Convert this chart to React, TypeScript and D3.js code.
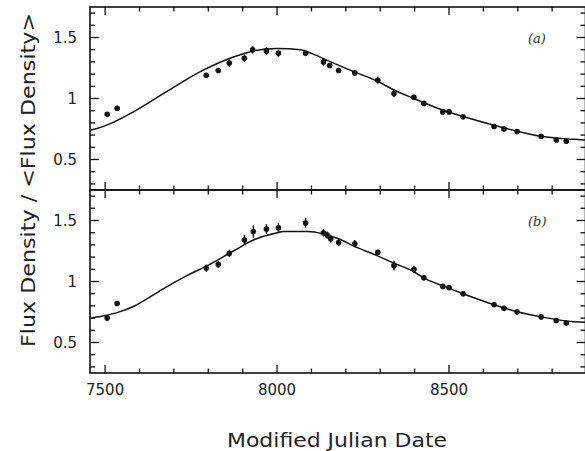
import React from "react";
import * as d3 from "d3";

// Normalised flux density light curves
// Each observation: [date, value, error]
const pointsA: [number, number, number][] = [
  [7506, 0.87, 0.02], [7535, 0.92, 0.02], [7794, 1.19, 0.02], [7829, 1.23, 0.02],
  [7861, 1.29, 0.03], [7905, 1.33, 0.03], [7929, 1.40, 0.03], [7969, 1.39, 0.03],
  [8004, 1.37, 0.03], [8083, 1.37, 0.02], [8135, 1.30, 0.03], [8153, 1.27, 0.02],
  [8179, 1.23, 0.02], [8226, 1.21, 0.02], [8293, 1.15, 0.03], [8340, 1.04, 0.03],
  [8398, 1.01, 0.02], [8427, 0.96, 0.02], [8482, 0.89, 0.02], [8500, 0.89, 0.02],
  [8541, 0.85, 0.02], [8631, 0.77, 0.02], [8660, 0.75, 0.02], [8698, 0.73, 0.02],
  [8768, 0.69, 0.02], [8812, 0.66, 0.02], [8841, 0.65, 0.02],
];
const pointsB: [number, number, number][] = [
  [7506, 0.70, 0.02], [7535, 0.82, 0.02], [7794, 1.11, 0.03], [7829, 1.14, 0.03],
  [7861, 1.23, 0.03], [7905, 1.34, 0.04], [7931, 1.41, 0.05], [7969, 1.43, 0.04],
  [8004, 1.44, 0.04], [8083, 1.48, 0.04], [8135, 1.40, 0.03], [8146, 1.38, 0.03],
  [8156, 1.35, 0.03], [8179, 1.32, 0.03], [8226, 1.31, 0.03], [8293, 1.24, 0.02],
  [8340, 1.13, 0.04], [8398, 1.10, 0.03], [8427, 1.03, 0.02], [8482, 0.96, 0.02],
  [8500, 0.95, 0.02], [8541, 0.90, 0.02], [8631, 0.81, 0.02], [8660, 0.78, 0.02],
  [8698, 0.75, 0.02], [8768, 0.71, 0.02], [8812, 0.68, 0.02], [8841, 0.66, 0.02],
];

// Model curves: [date, value]
const modelA: [number, number][] = [
  [7456, 0.74], [7471, 0.75], [7520, 0.80], [7582, 0.89], [7681, 1.06], [7777, 1.22],
  [7873, 1.34], [7931, 1.39], [8001, 1.41], [8068, 1.40], [8100, 1.37], [8156, 1.30],
  [8223, 1.22], [8293, 1.14], [8340, 1.07], [8398, 1.00], [8477, 0.91], [8544, 0.85],
  [8631, 0.78], [8701, 0.73], [8768, 0.69], [8864, 0.665], [8896, 0.66],
];
const modelB: [number, number][] = [
  [7456, 0.70], [7490, 0.715], [7535, 0.745], [7582, 0.795], [7620, 0.855], [7660, 0.925],
  [7739, 1.05], [7797, 1.13], [7873, 1.25], [7931, 1.34], [8001, 1.40], [8019, 1.41],
  [8089, 1.41], [8135, 1.39], [8179, 1.35], [8223, 1.29], [8293, 1.21], [8340, 1.15],
  [8398, 1.08], [8427, 1.03], [8486, 0.96], [8541, 0.90], [8631, 0.81], [8701, 0.75],
  [8768, 0.71], [8864, 0.67], [8896, 0.665],
];

const xMajor = [7500, 8000, 8500];
const yMajor = [0.5, 1, 1.5];
const yTickLabels = ["0.5", "1", "1.5"];
const panelLabels = ["(a)", "(b)"];
const xTitle = "Modified Julian Date";
const yTitle = "Flux Density / <Flux Density>";

const W = 585;
const H = 451;
const left = 90;
const right = 585.5;
const panels = [
  { top: 7, bottom: 190 },
  { top: 190, bottom: 373 },
];

const x = d3.scaleLinear().domain([7456, 8897]).range([left, right]);
const xMinor = d3.range(7500, 8900, 100);
const yMinor = d3.range(0.3, 1.75, 0.1).map((v) => Math.round(v * 10) / 10);

const font = "'DejaVu Sans', sans-serif";

function Panel({ idx, pts, model }: { idx: number; pts: [number, number, number][]; model: [number, number][] }) {
  const { top, bottom } = panels[idx];
  const y = d3.scaleLinear().domain([0.25, 1.75]).range([bottom, top]);
  const line = d3
    .line<[number, number]>()
    .x((d) => x(d[0]))
    .y((d) => y(d[1]))
    .curve(d3.curveMonotoneX);
  const isMajorX = (v: number) => xMajor.includes(v);
  const isMajorY = (v: number) => yMajor.some((m) => Math.abs(m - v) < 1e-6);
  return (
    <g>
      <defs>
        <clipPath id={`clip${idx}`}>
          <rect x={left} y={top} width={right - left} height={bottom - top} />
        </clipPath>
      </defs>
      <path d={line(model) || ""} fill="none" stroke="#111" strokeWidth={1.5} clipPath={`url(#clip${idx})`} />
      {pts.map((p, i) => (
        <g key={i}>
          <line x1={x(p[0])} x2={x(p[0])} y1={y(p[1] - p[2])} y2={y(p[1] + p[2])} stroke="#111" strokeWidth={1.4} />
          <circle cx={x(p[0])} cy={y(p[1])} r={2.8} fill="#111" />
        </g>
      ))}
      {/* frame */}
      <rect x={left} y={top} width={right - left} height={bottom - top} fill="none" stroke="#111" strokeWidth={1.6} />
      {/* x ticks, bottom and top, pointing inward */}
      {xMinor.map((v) => {
        const len = isMajorX(v) ? 8 : 4.5;
        return (
          <g key={v}>
            <line x1={x(v)} x2={x(v)} y1={bottom} y2={bottom - len} stroke="#111" strokeWidth={1.3} />
            <line x1={x(v)} x2={x(v)} y1={top} y2={top + len} stroke="#111" strokeWidth={1.3} />
          </g>
        );
      })}
      {/* y ticks, left and right */}
      {yMinor.map((v) => {
        const len = isMajorY(v) ? 9 : 5;
        return (
          <g key={v}>
            <line x1={left} x2={left + len} y1={y(v)} y2={y(v)} stroke="#111" strokeWidth={1.3} />
            <line x1={right} x2={right - len} y1={y(v)} y2={y(v)} stroke="#111" strokeWidth={1.3} />
          </g>
        );
      })}
      {yMajor.map((v, i) => (
        <text key={v} x={77} y={y(v) + 5.5} textAnchor="end" fontFamily={font} fontSize={15} fill="#222">
          {yTickLabels[i]}
        </text>
      ))}
      <text x={528} y={top + 36} fontFamily="'DejaVu Serif', serif" fontStyle="italic" fontSize={13} fill="#333">
        {panelLabels[idx]}
      </text>
    </g>
  );
}

export default function App() {
  return (
    <svg width={W} height={H} style={{ position: "absolute", left: 0, top: 0, background: "#fff" }}>
      <rect width={W} height={H} fill="#fff" />
      <Panel idx={0} pts={pointsA} model={modelA} />
      <Panel idx={1} pts={pointsB} model={modelB} />
      {xMajor.map((v) => (
        <text key={v} x={x(v)} y={395} textAnchor="middle" fontFamily={font} fontSize={15} fill="#222">
          {v}
        </text>
      ))}
      <text
        x={337}
        y={447}
        textAnchor="middle"
        fontFamily={font}
        fontSize={19}
        fill="#222"
        textLength={220}
        lengthAdjust="spacingAndGlyphs"
      >
        {xTitle}
      </text>
      <text
        transform={`translate(35,180) rotate(-90)`}
        textAnchor="middle"
        fontFamily={font}
        fontSize={19}
        fill="#222"
        textLength={334}
        lengthAdjust="spacingAndGlyphs"
      >
        {yTitle}
      </text>
    </svg>
  );
}
